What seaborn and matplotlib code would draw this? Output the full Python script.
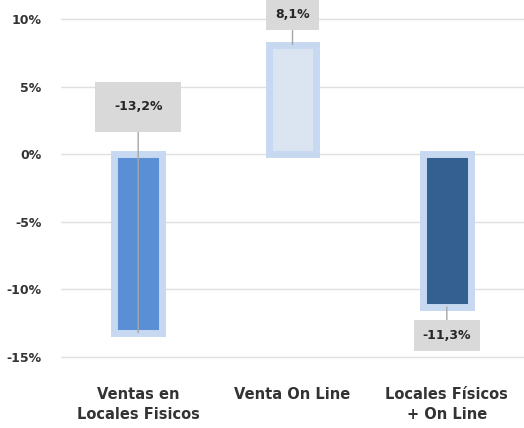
import numpy as np
import pandas as pd
import matplotlib
matplotlib.use("Agg")
import matplotlib.pyplot as plt
import seaborn as sns

# datos
categorias = ["Ventas en\nLocales Fisicos", "Venta On Line", "Locales Físicos\n+ On Line"]
variacion = [-13.2, 8.1, -11.3]
etiquetas = ["-13,2%", "8,1%", "-11,3%"]
pos_etiqueta = [3.5, 10.3, -13.4]
colores = ["#5a8fd5", "#dbe5f1", "#335f91"]

sns.set_theme(style="white")
plt.rcParams['font.family'] = ['DejaVu Sans']

df = pd.DataFrame({"cat": categorias, "val": variacion})

fig = plt.figure(figsize=(5.24, 4.28), dpi=100)
ax = fig.add_axes([0.1164, 0.134, 0.8836, 0.866])

sns.barplot(data=df, x="cat", y="val", hue="cat", palette=colores,
            saturation=1, width=0.31, edgecolor="#c6d9f1", linewidth=5.0,
            legend=False, ax=ax, zorder=2)

ax.set_xlim(-0.5, 2.5)
ax.set_ylim(-16.0, 11.4)
ax.set_yticks([10, 5, 0, -5, -10, -15])
ax.set_yticklabels([f"{t}%" for t in [10, 5, 0, -5, -10, -15]])
ax.yaxis.grid(True, color="#e0e0e0", linewidth=1.0, zorder=0)
ax.set_axisbelow(True)
for s in ax.spines.values():
    s.set_visible(False)
ax.tick_params(axis="y", length=0, pad=14, labelsize=9, labelcolor="#333333")
ax.tick_params(axis="x", length=0, pad=12, labelsize=10.5, labelcolor="#333333")
for lbl in ax.get_yticklabels() + ax.get_xticklabels():
    lbl.set_fontweight("bold")
    lbl.set_linespacing(1.35)
ax.set_xlabel("")
ax.set_ylabel("")

pads = [1.5, 0.7, 0.7]
for i, (v, txt, yl) in enumerate(zip(variacion, etiquetas, pos_etiqueta)):
    ax.annotate(txt, xy=(i, v), xytext=(i, yl), ha="center", va="center",
                fontsize=9, fontweight="bold", color="#262626",
                bbox=dict(boxstyle=f"square,pad={pads[i]}", fc="#d9d9d9", ec="none"),
                arrowprops=dict(arrowstyle="-", color="#a6a6a6", lw=1,
                                shrinkA=0, shrinkB=0),
                zorder=5, annotation_clip=False)

fig.savefig("out.png", dpi=100)
